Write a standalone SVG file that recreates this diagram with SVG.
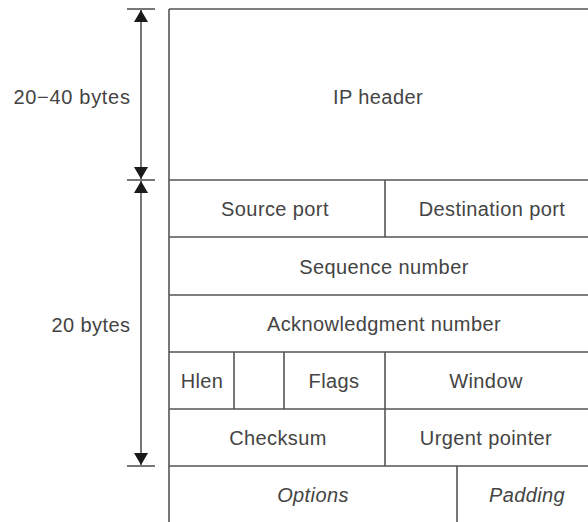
<svg xmlns="http://www.w3.org/2000/svg" width="588" height="522" viewBox="0 0 588 522">
  <style>
    .ln { stroke: #555; stroke-width: 1.6; fill: none; }
    .tx { font-family: "Liberation Sans", Arial, sans-serif; font-size: 20px; fill: #444; text-anchor: middle; letter-spacing: 0.4px; }
    .it { font-style: italic; }
  </style>
  <defs>
    <marker id="ah" viewBox="0 0 12 14" refX="12" refY="7" markerWidth="12" markerHeight="14" markerUnits="userSpaceOnUse" orient="auto">
      <path d="M0,0 L12,7 L0,14 Z" fill="#1a1a1a"/>
    </marker>
  </defs>

  <g id="connectors">
    <!-- tick marks -->
    <line class="ln" x1="127" y1="9" x2="155" y2="9"/>
    <line class="ln" x1="127" y1="180" x2="155" y2="180"/>
    <line class="ln" x1="127" y1="466" x2="155" y2="466"/>
    <!-- dimension arrows -->
    <line class="ln" x1="141" y1="95" x2="141" y2="10" marker-end="url(#ah)"/>
    <line class="ln" x1="141" y1="95" x2="141" y2="179" marker-end="url(#ah)"/>
    <line class="ln" x1="141" y1="320" x2="141" y2="181" marker-end="url(#ah)"/>
    <line class="ln" x1="141" y1="320" x2="141" y2="465" marker-end="url(#ah)"/>
  </g>

  <g id="dim-labels">
    <text class="tx" x="72" y="104" style="letter-spacing:0.7px">20−40 bytes</text>
    <text class="tx" x="91" y="332">20 bytes</text>
  </g>

  <g id="grid">
    <line class="ln" x1="169" y1="9" x2="169" y2="522"/>
    <line class="ln" x1="169" y1="9" x2="588" y2="9"/>
    <line class="ln" x1="169" y1="180" x2="588" y2="180"/>
    <line class="ln" x1="169" y1="237" x2="588" y2="237"/>
    <line class="ln" x1="169" y1="295" x2="588" y2="295"/>
    <line class="ln" x1="169" y1="352" x2="588" y2="352"/>
    <line class="ln" x1="169" y1="409" x2="588" y2="409"/>
    <line class="ln" x1="169" y1="466" x2="588" y2="466"/>
  </g>

  <g id="ip-header">
    <text class="tx" x="378" y="104">IP header</text>
  </g>

  <g id="source-port">
    <text class="tx" x="275" y="216">Source port</text>
  </g>
  <g id="destination-port">
    <line class="ln" x1="385" y1="180" x2="385" y2="237"/>
    <text class="tx" x="492" y="216">Destination port</text>
  </g>

  <g id="sequence-number">
    <text class="tx" x="384" y="274">Sequence number</text>
  </g>

  <g id="ack-number">
    <text class="tx" x="384" y="331">Acknowledgment number</text>
  </g>

  <g id="hlen">
    <text class="tx" x="202" y="388">Hlen</text>
  </g>
  <g id="reserved">
    <line class="ln" x1="234" y1="352" x2="234" y2="409"/>
    <line class="ln" x1="284" y1="352" x2="284" y2="409"/>
  </g>
  <g id="flags">
    <text class="tx" x="334" y="388">Flags</text>
  </g>
  <g id="window">
    <line class="ln" x1="385" y1="352" x2="385" y2="409"/>
    <text class="tx" x="486" y="388">Window</text>
  </g>

  <g id="checksum">
    <text class="tx" x="278" y="445">Checksum</text>
  </g>
  <g id="urgent-pointer">
    <line class="ln" x1="385" y1="409" x2="385" y2="466"/>
    <text class="tx" x="486" y="445">Urgent pointer</text>
  </g>

  <g id="options">
    <text class="tx it" x="313" y="502">Options</text>
  </g>
  <g id="padding">
    <line class="ln" x1="457" y1="466" x2="457" y2="522"/>
    <text class="tx it" x="527" y="502">Padding</text>
  </g>
</svg>
